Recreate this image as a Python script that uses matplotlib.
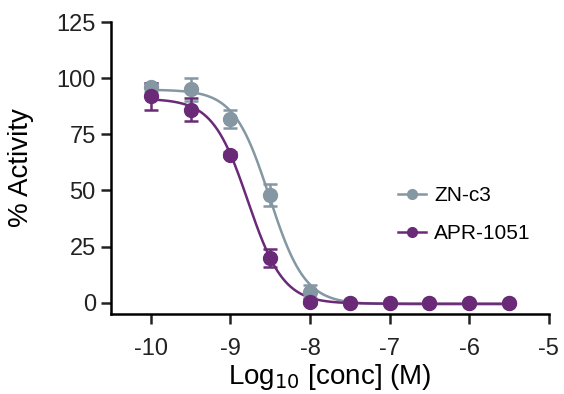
import matplotlib
matplotlib.use('Agg')
import matplotlib.pyplot as plt
import numpy as np

plt.rcParams['font.family'] = ['Liberation Sans', 'DejaVu Sans']
plt.rcParams['axes.unicode_minus'] = False

log_conc = [-10, -9.5, -9, -8.5, -8, -7.5, -7, -6.5, -6, -5.5]

zn_mean = [96, 95, 82, 48, 5, 0, 0, 0, 0, 0]
zn_err = [2, 5, 4, 5, 3, 0, 0, 0, 0, 0]

apr_mean = [92, 86, 66, 20, 0.5, 0, 0, 0, 0, 0]
apr_err = [6, 5, 1, 4, 1, 0, 0, 0, 0, 0]

grey = '#8497a3'
purple = '#6b2a78'


def fit_curve(x, y):
    # 4-parameter logistic, grid over (logIC50, hill), linear solve for top/bottom
    x = np.asarray(x, float)
    y = np.asarray(y, float)
    best = None
    for c in np.linspace(-9.5, -7.5, 201):
        for h in np.linspace(0.5, 4, 71):
            s = 1.0 / (1 + 10 ** ((x - c) * h))
            A = np.column_stack([np.ones_like(s), s])
            coef, res, _, _ = np.linalg.lstsq(A, y, rcond=None)
            err = np.sum((A @ coef - y) ** 2)
            if best is None or err < best[0]:
                best = (err, c, h, coef)
    _, c, h, coef = best
    return lambda xx: coef[0] + coef[1] / (1 + 10 ** ((xx - c) * h))


fig, ax = plt.subplots(figsize=(5.64, 3.94), dpi=100)
fig.subplots_adjust(left=0.197, right=0.973, bottom=0.203, top=0.944)

xs = np.linspace(-10, -5.5, 400)
for mean, err, col, name in [(zn_mean, zn_err, grey, 'ZN-c3'),
                             (apr_mean, apr_err, purple, 'APR-1051')]:
    f = fit_curve(log_conc, mean)
    ax.plot(xs, f(xs), color=col, lw=1.8, zorder=2)
    ax.errorbar(log_conc, mean, yerr=err, fmt='none', ecolor=col,
                elinewidth=1.8, capsize=5, capthick=1.8, zorder=3)
    ax.plot(log_conc, mean, 'o', color=col, ms=10, zorder=4)
    ax.plot([], [], '-o', color=col, lw=1.8, ms=7, label=name)

ax.set_xlim(-10.5, -5)
ax.set_ylim(-5, 125)
ax.set_xticks([-10, -9, -8, -7, -6, -5])
ax.set_yticks([0, 25, 50, 75, 100, 125])
ax.spines['top'].set_visible(False)
ax.spines['right'].set_visible(False)
for s in ['left', 'bottom']:
    ax.spines[s].set_linewidth(1.8)
ax.tick_params(direction='out', length=7, width=1.8, labelsize=17, colors='#222222', pad=4)
ax.tick_params(axis='x', pad=10)

ax.set_ylabel('% Activity', fontsize=20, labelpad=16)
ax.set_xlabel('Log$_{10}$ [conc] (M)', fontsize=20, labelpad=2)

ax.legend(loc='center left', bbox_to_anchor=(0.612, 0.34), frameon=False,
          fontsize=15, handlelength=1.35, labelspacing=0.9, handletextpad=0.4)

fig.savefig('out.png', dpi=100)
